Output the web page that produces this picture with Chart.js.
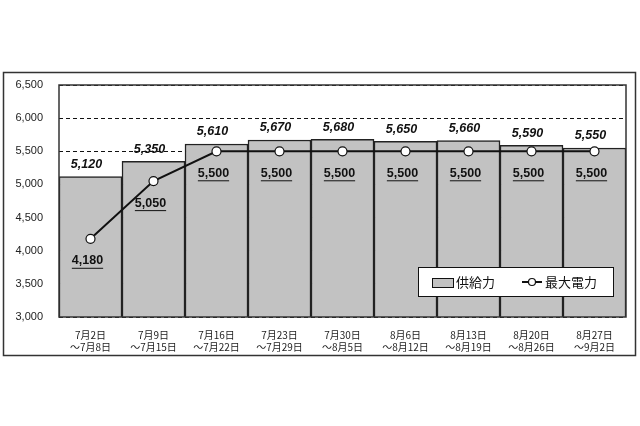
<!DOCTYPE html>
<html>
<head>
<meta charset="utf-8">
<script src="https://cdn.jsdelivr.net/npm/chart.js@4/dist/chart.umd.min.js"></script>
<style>
  body { margin: 0; background: #fff; }
  canvas { display: block; }
</style>
</head>
<body>
<canvas id="chart" width="640" height="426"></canvas>
<script>
// 週ごとの期間
const weeks = [
  ['7月2日', '～7月8日'],
  ['7月9日', '～7月15日'],
  ['7月16日', '～7月22日'],
  ['7月23日', '～7月29日'],
  ['7月30日', '～8月5日'],
  ['8月6日', '～8月12日'],
  ['8月13日', '～8月19日'],
  ['8月20日', '～8月26日'],
  ['8月27日', '～9月2日']
];
const supply = [5120, 5350, 5610, 5670, 5680, 5650, 5660, 5590, 5550]; // 供給力
const peak = [4180, 5050, 5500, 5500, 5500, 5500, 5500, 5500, 5500];     // 最大電力
const yMin = 3000;
const yMax = 6500;
const yStep = 500;

const barColor = '#c2c2c2';
const fmt = v => v.toLocaleString('en-US');

// 値ラベル・枠・凡例を描くプラグイン
const extras = {
  id: 'extras',
  afterDatasetsDraw(chart) {
    const ctx = chart.ctx;
    const area = chart.chartArea;
    ctx.save();
    // プロットエリアの枠
    ctx.strokeStyle = '#333';
    ctx.lineWidth = 1.5;
    ctx.strokeRect(area.left, area.top, area.right - area.left, area.bottom - area.top);

    // 棒の上の値（斜体）
    const barMeta = chart.getDatasetMeta(1);
    ctx.fillStyle = '#111';
    ctx.textAlign = 'center';
    ctx.textBaseline = 'middle';
    ctx.font = 'italic bold 12.5px "Liberation Sans", Arial, sans-serif';
    barMeta.data.forEach((el, i) => {
      ctx.fillText(fmt(supply[i]), el.x - 4, el.y - 12);
    });

    // 折れ線の下の値（下線付き）
    const lineMeta = chart.getDatasetMeta(0);
    ctx.font = 'bold 12.5px "Liberation Sans", Arial, sans-serif';
    ctx.lineWidth = 1;
    ctx.strokeStyle = '#111';
    lineMeta.data.forEach((el, i) => {
      const t = fmt(peak[i]);
      const w = ctx.measureText(t).width;
      const x = el.x - 3, y = el.y + 22;
      ctx.fillText(t, x, y);
      ctx.beginPath();
      ctx.moveTo(x - w / 2, y + 7.5);
      ctx.lineTo(x + w / 2, y + 7.5);
      ctx.stroke();
    });
    ctx.restore();
  },
  afterDraw(chart) {
    const ctx = chart.ctx;
    ctx.save();
    // 外枠
    ctx.strokeStyle = '#333';
    ctx.lineWidth = 1.5;
    ctx.strokeRect(3.5, 72.5, 632, 283);

    // 凡例
    ctx.fillStyle = '#fff';
    ctx.fillRect(418, 267, 195, 29);
    ctx.strokeStyle = '#111';
    ctx.lineWidth = 1;
    ctx.strokeRect(418.5, 267.5, 195, 29);

    ctx.fillStyle = barColor;
    ctx.fillRect(432, 278, 21, 9);
    ctx.strokeRect(432.5, 278.5, 21, 9);

    ctx.fillStyle = '#111';
    ctx.font = '13px "Noto Sans CJK JP", sans-serif';
    ctx.textAlign = 'left';
    ctx.textBaseline = 'middle';
    ctx.fillText(chart.data.datasets[1].label, 456, 282);

    ctx.lineWidth = 2;
    ctx.beginPath();
    ctx.moveTo(522, 282);
    ctx.lineTo(542, 282);
    ctx.stroke();
    ctx.beginPath();
    ctx.arc(532, 282, 3.5, 0, Math.PI * 2);
    ctx.fillStyle = '#fff';
    ctx.fill();
    ctx.lineWidth = 1.2;
    ctx.stroke();
    ctx.fillStyle = '#111';
    ctx.fillText(chart.data.datasets[0].label, 545, 282);
    ctx.restore();
  }
};

new Chart(document.getElementById('chart'), {
  data: {
    labels: weeks,
    datasets: [
      {
        type: 'line',
        label: '最大電力',
        data: peak,
        order: 0,
        borderColor: '#111',
        borderWidth: 2,
        pointRadius: 4.5,
        pointBackgroundColor: '#fff',
        pointBorderColor: '#111',
        pointBorderWidth: 1.2,
        tension: 0
      },
      {
        type: 'bar',
        label: '供給力',
        data: supply,
        order: 1,
        backgroundColor: barColor,
        borderColor: '#222',
        borderWidth: 1.5,
        barPercentage: 1,
        categoryPercentage: 1
      }
    ]
  },
  options: {
    responsive: false,
    animation: false,
    devicePixelRatio: 1,
    layout: { padding: { left: 0, top: 85, right: 14, bottom: 71 } },
    plugins: {
      legend: { display: false },
      tooltip: { enabled: false }
    },
    scales: {
      x: {
        grid: { display: false, drawTicks: false },
        border: { display: false },
        ticks: {
          padding: 12,
          color: '#222',
          font: { family: '"Noto Sans CJK JP", sans-serif', size: 10, lineHeight: 1.2 },
          maxRotation: 0,
          autoSkip: false
        },
        afterFit(scale) { scale.height = 38; }
      },
      y: {
        min: yMin,
        max: yMax,
        grid: { color: '#111', lineWidth: 1, drawTicks: false },
        border: { display: false, dash: [4, 3] },
        ticks: {
          stepSize: yStep,
          padding: 16,
          color: '#222',
          font: { family: '"Liberation Sans", Arial, sans-serif', size: 11 },
          callback: v => fmt(v)
        },
        afterFit(scale) { scale.width = 59; }
      }
    }
  },
  plugins: [extras]
});
</script>
</body>
</html>
